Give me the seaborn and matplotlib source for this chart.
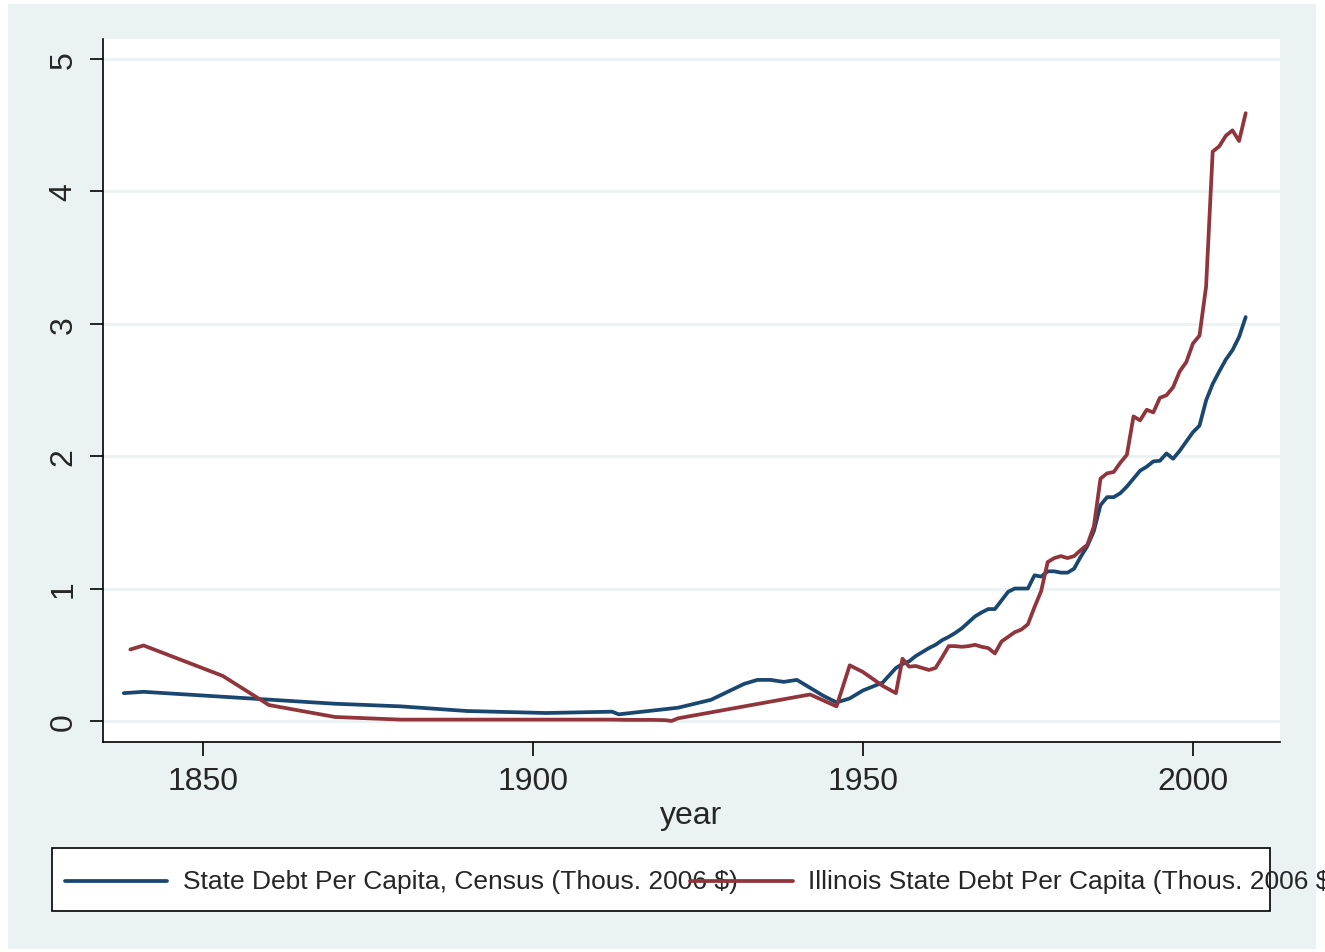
import matplotlib
matplotlib.use("Agg")
import matplotlib.pyplot as plt
from matplotlib.patches import Rectangle
from matplotlib.lines import Line2D
import seaborn as sns
import pandas as pd

# ---- data ----
census_years = [1838, 1841, 1870, 1880, 1890, 1902, 1912, 1913, 1922, 1927, 1932, 1934, 1936,
                1938, 1940, 1942, 1944, 1946, 1948, 1950, 1952, 1953, 1955, 1956, 1957, 1958,
                1959, 1960, 1961, 1962, 1963, 1964, 1965, 1966, 1967, 1968, 1969, 1970, 1971,
                1972, 1973, 1974, 1975, 1976, 1977, 1978, 1979, 1980, 1981, 1982, 1983, 1984,
                1985, 1986, 1987, 1988, 1989, 1990, 1991, 1992, 1993, 1994, 1995, 1996, 1997,
                1998, 1999, 2000, 2001, 2002, 2003, 2004, 2005, 2006, 2007, 2008]
census_debt = [0.21, 0.22, 0.13, 0.11, 0.075, 0.06, 0.07, 0.05, 0.10, 0.16, 0.28, 0.31, 0.31,
               0.295, 0.31, 0.25, 0.19, 0.14, 0.17, 0.23, 0.27, 0.29, 0.40, 0.43, 0.45, 0.49,
               0.52, 0.55, 0.575, 0.61, 0.635, 0.665, 0.70, 0.745, 0.79, 0.82, 0.845, 0.845, 0.91,
               0.975, 1.0, 1.0, 1.0, 1.10, 1.09, 1.13, 1.13, 1.12, 1.12, 1.15, 1.24, 1.32,
               1.435, 1.63, 1.69, 1.69, 1.72, 1.77, 1.83, 1.89, 1.92, 1.96, 1.965, 2.02, 1.98,
               2.04, 2.11, 2.18, 2.23, 2.42, 2.545, 2.64, 2.73, 2.80, 2.90, 3.05]

illinois_years = [1839, 1841, 1853, 1860, 1870, 1880, 1882, 1884, 1886, 1888, 1890, 1892, 1894,
                  1896, 1898, 1900, 1902, 1904, 1906, 1908, 1910, 1912, 1914, 1916, 1918, 1920,
                  1921, 1922, 1942, 1946, 1948, 1950, 1952, 1953, 1955, 1956, 1957, 1958, 1959,
                  1960, 1961, 1962, 1963, 1964, 1965, 1966, 1967, 1968, 1969, 1970, 1971, 1972,
                  1973, 1974, 1975, 1976, 1977, 1978, 1979, 1980, 1981, 1982, 1983, 1984, 1985,
                  1986, 1987, 1988, 1989, 1990, 1991, 1992, 1993, 1994, 1995, 1996, 1997, 1998,
                  1999, 2000, 2001, 2002, 2003, 2004, 2005, 2006, 2007, 2008]
illinois_debt = [0.54, 0.57, 0.34, 0.12, 0.03, 0.01, 0.01, 0.01, 0.01, 0.01, 0.01, 0.01, 0.01,
                 0.01, 0.01, 0.01, 0.01, 0.01, 0.01, 0.01, 0.01, 0.01, 0.008, 0.008, 0.008, 0.006,
                 0.0, 0.02, 0.20, 0.11, 0.42, 0.37, 0.30, 0.265, 0.21, 0.47, 0.41, 0.415, 0.40,
                 0.385, 0.40, 0.48, 0.565, 0.565, 0.56, 0.565, 0.575, 0.56, 0.55, 0.51, 0.60, 0.635,
                 0.67, 0.69, 0.73, 0.86, 0.98, 1.20, 1.23, 1.245, 1.23, 1.245, 1.29, 1.33, 1.47,
                 1.83, 1.87, 1.88, 1.95, 2.01, 2.30, 2.27, 2.35, 2.33, 2.44, 2.46, 2.52, 2.64,
                 2.71, 2.85, 2.91, 3.28, 4.30, 4.34, 4.42, 4.46, 4.38, 4.59]

series_labels = ["State Debt Per Capita, Census (Thous. 2006 $)",
                 "Illinois State Debt Per Capita (Thous. 2006 $)"]
series_colors = ["#1A476F", "#90353B"]
x_ticks = [1850, 1900, 1950, 2000]
y_ticks = [0, 1, 2, 3, 4, 5]
x_label = "year"

df = pd.concat([
    pd.DataFrame({"year": census_years, "debt": census_debt, "series": series_labels[0]}),
    pd.DataFrame({"year": illinois_years, "debt": illinois_debt, "series": series_labels[1]}),
], ignore_index=True)

# ---- style ----
sns.set_style("white")
plt.rcParams["font.family"] = ["Liberation Sans", "DejaVu Sans"]

W, H = 1325, 953
fig = plt.figure(figsize=(W / 100, H / 100), dpi=100)
fig.patch.set_facecolor("white")
bg = "#EAF2F3"
fig.add_artist(Rectangle((8 / W, 3 / H), (1316 - 8) / W, (950 - 5) / H,
                         transform=fig.transFigure, facecolor=bg, edgecolor="none", zorder=-10))

ax = fig.add_axes([103 / W, 1 - 743 / H, (1280 - 103) / W, (743 - 40) / H])
ax.set_facecolor("white")

for yv in y_ticks:
    ax.axhline(yv, color=bg, lw=2.0, zorder=0)

sns.lineplot(data=df, x="year", y="debt", hue="series", palette=series_colors,
             hue_order=series_labels, linewidth=2.7, legend=False, ax=ax, sort=True,
             estimator=None)

ax.set_xlim(1834.85, 2013.2)
ax.set_ylim(-0.159, 5.15)
ax.set_xticks(x_ticks)
ax.set_yticks(y_ticks)
ax.set_xticklabels([str(v) for v in x_ticks], fontsize=23)
ax.set_yticklabels([str(v) for v in y_ticks], fontsize=23, rotation=90, va="center")
ax.tick_params(axis="x", direction="out", length=10, width=1.2, color="black", pad=7,
               bottom=True)
ax.tick_params(axis="y", direction="out", length=9.5, width=1.2, color="black", pad=8,
               left=True)
ax.set_xlabel(x_label, fontsize=23, labelpad=3)
ax.set_ylabel("")
for s in ["top", "right"]:
    ax.spines[s].set_visible(False)
for s in ["left", "bottom"]:
    ax.spines[s].set_color("black")
    ax.spines[s].set_linewidth(1.2)

# ---- legend (Stata style, with overlapping entries) ----
fig.add_artist(Rectangle((52 / W, 1 - 912 / H), (1270 - 52) / W, (912 - 849) / H,
                         transform=fig.transFigure, facecolor="white", edgecolor="black",
                         lw=1.2, zorder=5))
ly = 1 - 882 / H
legend_font = ["Liberation Sans Narrow", "Liberation Sans", "DejaVu Sans"]
for (x0, x1, tx), lab, col in zip([(65, 167, 183), (690, 793, 808)], series_labels, series_colors):
    fig.add_artist(Line2D([x0 / W, x1 / W], [ly, ly], transform=fig.transFigure,
                          color=col, lw=2.7, zorder=7))
    fig.text(tx / W, ly, lab, fontsize=19, family=legend_font, va="center", ha="left",
             zorder=6)

fig.savefig("out.png", dpi=100, facecolor=fig.get_facecolor())
